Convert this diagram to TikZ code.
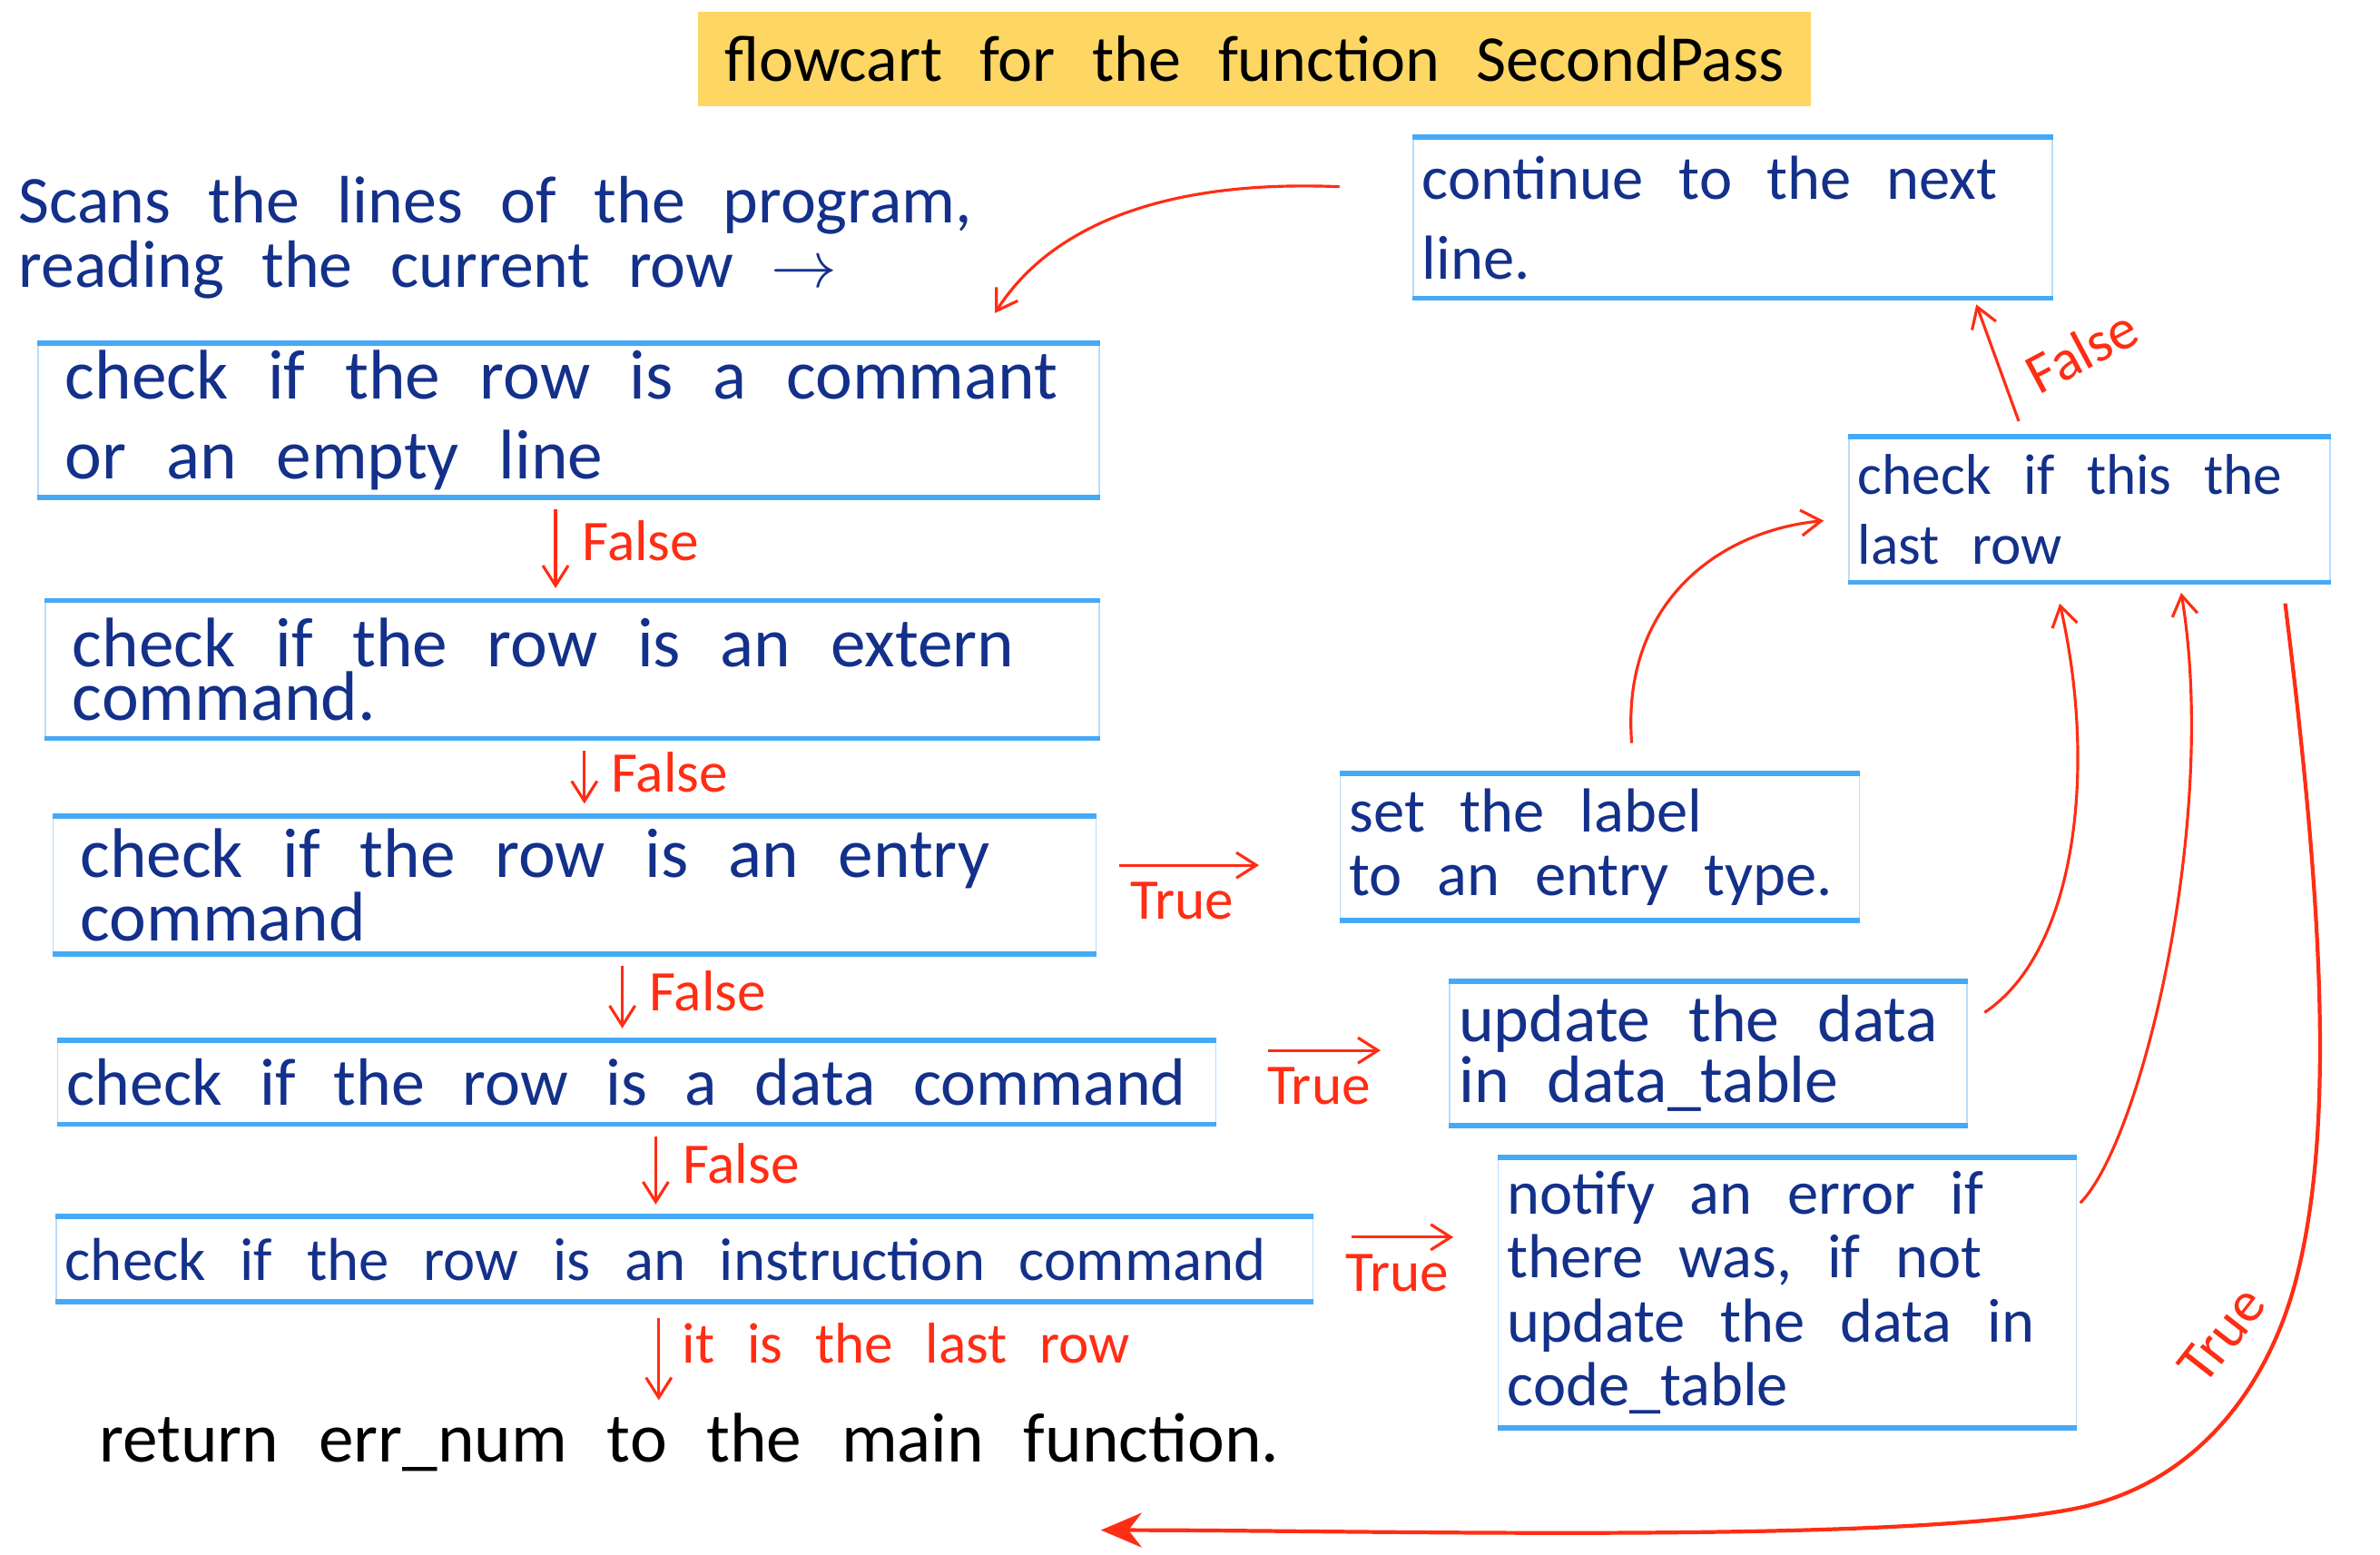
\documentclass[tikz,border=0pt]{standalone}
\usepackage{fontspec}
\setmainfont[WordSpace=2.5]{Carlito}
\usetikzlibrary{arrows.meta,calc}
\definecolor{inkblue}{HTML}{13308A}
\definecolor{rimblue}{HTML}{45A9F6}
\definecolor{sideblue}{HTML}{B9DDFB}
\definecolor{penred}{HTML}{FF2D14}
\definecolor{titleyellow}{HTML}{FDD663}

\begin{document}
\begin{tikzpicture}[x=0.016722cm, y=-0.016722cm,
  rowbox/.style 2 args={draw=sideblue, line width=0.5pt, text width=#1, minimum height=#2,
                        inner xsep=0.1cm, inner ysep=2pt, align=flush left, text=inkblue,
                        font=\fontsize{19.5}{20}\selectfont},
  wide/.style={font=\fontsize{21}{21}\selectfont},
  indent/.style={font=\fontsize{22}{22}\selectfont, inner xsep=0.3cm},
  rim/.style={line width=1.6pt, draw=rimblue},
  flow/.style={-{Straight Barb[length=2.2mm,width=2.8mm]}, line width=0.9pt, draw=penred},
  cond/.style={text=penred, font=\fontsize{18}{18}\selectfont, inner sep=1pt}
]
  \useasboundingbox (0,0) rectangle (1568,1024);

  \node[fill=titleyellow, minimum width=12.26cm, minimum height=1.04cm,
        font=\fontsize{20.5}{20}\selectfont] (title) at (826.5,39) {flowcart for the function SecondPass};
  \node[anchor=north west, align=left, text=inkblue, inner sep=0pt,
        font=\fontsize{21}{20}\selectfont] (scan) at (12,116) {Scans the lines of the program,\\ reading the current row $\rightarrow$};

  % checks down the left side
  \node[rowbox={11.09cm}{1.672cm}, indent] (cmt) at (374.5,277) {check if the row is a commant\\[3pt] or an empty line};
  \node[rowbox={11.01cm}{1.505cm}, indent] (ext) at (377,441) {check if the row is an extern\\[-5pt] command.};
  \node[rowbox={10.89cm}{1.505cm}, indent] (entry) at (378.5,583) {check if the row is an entry\\[-2pt] command};
  \node[rowbox={12.56cm}{0.903cm}, wide] (data) at (419.5,713) {check if the row is a data command};
  \node[rowbox={13.65cm}{0.92cm}, font=\fontsize{19}{20}\selectfont] (instr) at (451,829.5) {check if the row is an instruction command};
  \node[anchor=west, inner sep=0pt, font=\fontsize{22}{22}\selectfont] (ret) at (65,950) {return err\_num to the main function.};

  % actions on the right
  \node[rowbox={5.52cm}{1.605cm}] (setlbl) at (1054,558) {set the label\\ to an entry type.};
  \node[rowbox={5.50cm}{1.572cm}, wide] (upd) at (1125.5,694) {update the data\\[-2pt] in data\_table};
  \node[rowbox={6.17cm}{2.96cm}] (notify) at (1177.5,851.5) {notify an error if\\ there was, if not\\ update the data in\\ code\_table};
  \node[rowbox={5.10cm}{1.589cm}, font=\fontsize{18}{20}\selectfont] (last) at (1376.5,335.5) {check if this the\\[2pt] last row};
  \node[rowbox={6.84cm}{1.756cm}] (next) at (1141.5,143.5) {continue to the next\\[5pt] line.};

  \foreach \n in {cmt,ext,entry,data,instr,setlbl,upd,notify,last,next}{
    \draw[rim] (\n.north west) -- (\n.north east);
    \draw[rim] (\n.south west) -- (\n.south east);
  }

  \foreach \a/\b/\dx in {cmt/ext/-8.5,ext/entry/8,entry/data/31.5,data/instr/12.5}{
    \draw[flow] ($(\a.south)+(\dx,8)$) -- ($(\a.south |- \b.north)+(\dx,-8)$)
      node[cond,pos=0.4,right=7pt]{False};
  }
  \draw[flow] ($(instr.south)+(-17,11)$) -- ($(instr.south |- ret.north)+(-17,-8)$)
    node[cond,pos=0.3,right=6pt]{it is the last row};

  \foreach \a/\b/\sx/\sy/\ex in {entry/setlbl/15/-13/-53,data/upd/34/-21/-45,instr/notify/25/-14.5/-29}{
    \draw[flow] ($(\a.east)+(\sx,\sy)$) -- ($(\b.west |- \a.east)+(\ex,\sy)$)
      node[cond,pos=0.45,below=4pt]{True};
  }

  % loop back through the last-row check
  \draw[flow] ($(next.west)+(-48,-20.5)$) .. controls +(-120,-5) and +(35,-55) .. ($(cmt.north east)+(-69,-20)$);
  \draw[flow] ($(last.north)+(-46.5,-10)$) -- ($(next.south)+(160.5,4)$)
    node[cond,pos=0.35,right=7pt,rotate=28]{False};
  \draw[flow] ($(setlbl.north)+(21,-20)$) .. controls +(-7,-90) and +(-72,7) .. ($(last.west)+(-16,7.5)$);
  \draw[flow] ($(upd.east)+(11,-27)$) .. controls +(60,-40) and +(25,110) .. ($(last.south)+(-19.5,14)$);
  \draw[flow] ($(notify.north east)+(2,30)$) .. controls +(40,-40) and +(25,150) .. ($(last.south)+(60.5,7)$);
  \draw[flow, line width=1.2pt, -{Stealth[length=4.5mm,width=3.8mm]}]
    ($(last.south east)+(-30,14)$) .. controls +(25,200) and +(23,-97) .. ++(9,438)
    .. controls +(-18,78) and +(78,-16) .. ++(-146,158)
      node[cond,pos=0.1,rotate=52,anchor=south east,inner sep=4pt]{True}
    .. controls +(-118,24) and +(180,0) .. ($(ret.east)+(-118,58)$);
\end{tikzpicture}
\end{document}
